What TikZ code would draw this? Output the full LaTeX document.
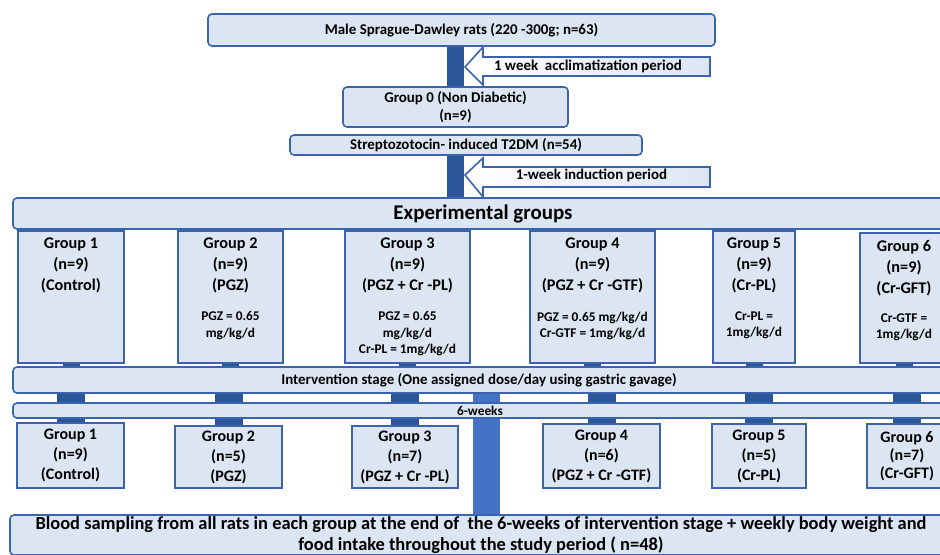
\documentclass[tikz,border=0pt]{standalone}
\usepackage{fontspec}
\setmainfont{Carlito}
\usetikzlibrary{positioning, backgrounds}
\definecolor{BoxFill}{HTML}{DCE6F2}
\definecolor{BoxLine}{HTML}{3B64AD}
\definecolor{BarBlue}{HTML}{2B579A}
\definecolor{MidBlue}{HTML}{4472C4}

\begin{document}
\begin{tikzpicture}[x=0.75pt, y=-0.75pt,
    stage/.style={draw=BoxLine, fill=BoxFill, line width=1.2pt, rounded corners=3pt, inner sep=0pt, align=center, font=\bfseries\fontsize{11.2}{13.5}\selectfont},
    grp/.style={draw=BoxLine, fill=BoxFill, line width=1.4pt, inner sep=0pt, align=center, font=\bfseries\fontsize{12}{15}\selectfont},
    grptxt/.style={inner sep=0pt, align=center, font=\bfseries\fontsize{12.2}{15.75}\selectfont},
    dose/.style={inner sep=0pt, align=center, font=\bfseries\fontsize{10}{12.4}\selectfont},
    period/.style={draw=BoxLine, line width=1.2pt, left color=white, right color=BoxFill},
    bar/.style={draw=BarBlue, line width=12.75pt},
    barw/.style={draw=BarBlue, line width=21pt},
    midbar/.style={draw=MidBlue, line width=20.25pt}]

    \useasboundingbox (0,0) rectangle (940,555);
    \clip (0,0) rectangle (940,555);

    % Top of the flow
    \node[stage, minimum width=380.25pt, minimum height=24pt] (rats) at (461.5,30) {Male Sprague-Dawley rats (220 -300g; n=63)};
    \node[stage, minimum width=168.75pt, minimum height=30pt] (g0) at (455.5,107) {Group 0 (Non Diabetic)\\(n=9)};
    \node[stage, minimum width=264pt, minimum height=15pt] (stz) at (466,145) {Streptozotocin- induced T2DM (n=54)};

    % Period arrows
    \draw[period] (465,67) -- (483,47) -- (483,57) -- (710,57) -- (710,76) -- (483,76) -- (483,85) -- cycle;
    \node[font=\bfseries\fontsize{11.2}{12}\selectfont, inner sep=0pt] (accl) at (588,66.5) {1 week\ \ acclimatization period};
    \draw[period] (465,175) -- (483,158) -- (483,167) -- (710,167) -- (710,187) -- (483,187) -- (483,197) -- cycle;
    \node[font=\bfseries\fontsize{11.2}{12}\selectfont, inner sep=0pt] (induc) at (591.5,175) {1-week induction period};

    % Experimental groups
    \node[stage, minimum width=705pt, minimum height=23.25pt, font=\bfseries\fontsize{15.7}{17}\selectfont] (exp) at (483,213.5) {Experimental groups};

    \node[grp, minimum width=79.5pt, minimum height=99pt] (g1) at (71,297) {};
    \node[grp, minimum width=78.75pt, minimum height=99pt] (g2) at (230.5,297) {};
    \node[grp, minimum width=93.75pt, minimum height=99pt] (g3) at (407.5,297) {};
    \node[grp, minimum width=93.75pt, minimum height=99pt] (g4) at (592.5,297) {};
    \node[grp, minimum width=61.5pt, minimum height=99pt] (g5) at (754,297) {};
    \node[grp, minimum width=66pt, minimum height=97.5pt] (g6) at (904,298) {};

    \node[grptxt, below=6pt of g1.north] (g1t) {Group 1\\(n=9)\\(Control)};
    \node[grptxt, below=6pt of g2.north] (g2t) {Group 2\\(n=9)\\(PGZ)};
    \node[grptxt, below=6pt of g3.north] (g3t) {Group 3\\(n=9)\\(PGZ + Cr -PL)};
    \node[grptxt, below=6pt of g4.north] (g4t) {Group 4\\(n=9)\\(PGZ + Cr -GTF)};
    \node[grptxt, below=6pt of g5.north] (g5t) {Group 5\\(n=9)\\(Cr-PL)};
    \node[grptxt, below=6pt of g6.north] (g6t) {Group 6\\(n=9)\\(Cr-GFT)};

    \node[dose, below=61pt of g2.north] (g2d) {PGZ = 0.65\\mg/kg/d};
    \node[dose, below=61pt of g3.north] (g3d) {PGZ = 0.65\\mg/kg/d\\Cr-PL = 1mg/kg/d};
    \node[dose, below=61pt of g4.north] (g4d) {PGZ = 0.65 mg/kg/d\\Cr-GTF = 1mg/kg/d};
    \node[dose, below=61pt of g5.north] (g5d) {Cr-PL =\\1mg/kg/d};
    \node[dose, below=61pt of g6.north] (g6d) {Cr-GTF =\\1mg/kg/d};

    % Intervention
    \node[stage, minimum width=699pt, minimum height=19.5pt] (ivn) at (479,380) {Intervention stage (One assigned dose/day using gastric gavage)};
    \node[stage, minimum width=700.5pt, minimum height=11.25pt, font=\bfseries\fontsize{10}{10}\selectfont] (wk) at (480,410.5) {6-weeks};

    % Groups after intervention
    \node[grp, minimum width=80.25pt, minimum height=48.75pt] (b1) at (70.5,455.5) {Group 1\\(n=9)\\(Control)};
    \node[grp, minimum width=80.25pt, minimum height=46.5pt] (b2) at (228.5,457) {Group 2\\(n=5)\\(PGZ)};
    \node[grp, minimum width=79.5pt, minimum height=46.5pt] (b3) at (405,457) {Group 3\\(n=7)\\(PGZ + Cr -PL)};
    \node[grp, minimum width=87.75pt, minimum height=48pt] (b4) at (601.5,456) {Group 4\\(n=6)\\(PGZ + Cr -GTF)};
    \node[grp, minimum width=70.5pt, minimum height=48pt] (b5) at (759,456) {Group 5\\(n=5)\\(Cr-PL)};
    \node[grp, minimum width=60pt, minimum height=48pt, font=\bfseries\fontsize{12}{13.5}\selectfont] (b6) at (907,456) {Group 6\\(n=7)\\(Cr-GFT)};

    \node[stage, minimum width=706.5pt, minimum height=30pt, font=\bfseries\fontsize{13.8}{16}\selectfont] (blood) at (481,535) {Blood sampling from all rats in each group at the end of\ \ the 6-weeks of intervention stage + weekly body weight and\\food intake throughout the study period ( n=48)};

    % Connecting bars
    \begin{scope}[on background layer]
        \fill[white] (0,0) rectangle (940,555);
        \draw[bar] (g0.north |- rats.south) -- (g0.north);
        \draw[bar] (g0.south |- stz.south) -- (g0.south |- exp.north);
        \foreach \g in {g1,g2,g3,g4,g5,g6}
            \draw[bar] (\g.south) -- (\g.south |- ivn.north);
        \foreach \b in {b1,b2,b3,b4,b5,b6}
            \draw[barw] (\b.north |- ivn.south) -- (\b.north);
        \draw[midbar] ([xshift=5.6pt]ivn.south) -- ([xshift=5.6pt]ivn.south |- blood.north);
    \end{scope}
\end{tikzpicture}
\end{document}
